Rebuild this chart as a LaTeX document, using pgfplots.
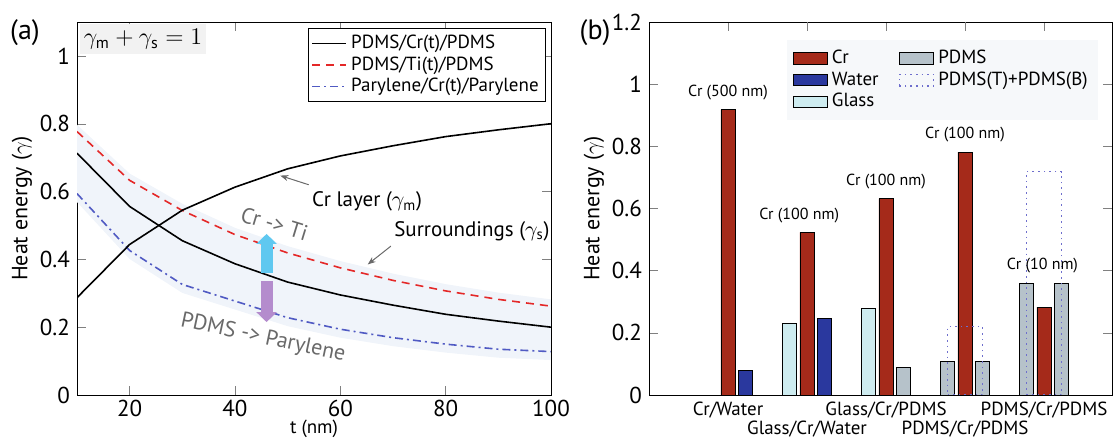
\documentclass[border=0pt]{standalone}
\usepackage{pgfplots}
\pgfplotsset{compat=1.18}
\usepgfplotslibrary{fillbetween}
\usetikzlibrary{arrows.meta}
\usepackage{fontspec}
\setmainfont{PT Sans}

\definecolor{crred}{RGB}{165,42,26}
\definecolor{wblue}{RGB}{42,56,158}
\definecolor{glass}{RGB}{206,236,240}
\definecolor{pdms}{RGB}{182,194,202}
\definecolor{dotbox}{RGB}{110,110,205}
\definecolor{band}{RGB}{240,244,250}
\definecolor{legbg}{RGB}{246,248,250}
\definecolor{tired}{RGB}{228,40,40}
\definecolor{parblue}{RGB}{80,90,195}
\definecolor{annot}{RGB}{105,105,105}
\definecolor{upcyan}{RGB}{95,200,240}
\definecolor{dnpurple}{RGB}{180,140,205}

\begin{document}
\begin{tikzpicture}

% ---------- (a) ----------
\begin{axis}[
    at={(38.5pt,22pt)}, anchor=south west,
    scale only axis, width=237pt, height=186.5pt,
    xmin=10, xmax=100, ymin=0, ymax=1.1,
    xtick={20,40,60,80,100},
    ytick={0,0.2,0.4,0.6,0.8,1},
    tick label style={font=\fontsize{11.5}{12}\selectfont},
    xticklabel style={inner sep=1pt, yshift=-1.5pt},
    /pgf/number format/assume math mode=true,
    xlabel={t (nm)}, ylabel={Heat energy ($\gamma$)},
    label style={font=\fontsize{11}{12}\selectfont},
    xlabel style={at={(rel axis cs:0.5,0)}, anchor=south, yshift=-22pt,
        inner sep=0.5pt, font=\fontsize{9.5}{10}\selectfont},
    ylabel style={yshift=-3pt},
    legend style={at={(rel axis cs:0.99,0.985)}, anchor=north east,
        font=\fontsize{9.5}{10.5}\selectfont, draw=black, line width=0.6pt,
        inner sep=1.5pt, row sep=-1.5pt},
    legend cell align=left,
]
\addplot[draw=none, name path=up, forget plot] coordinates {
    (10,0.797) (20,0.653) (30,0.564) (40,0.493) (50,0.439)
    (60,0.395) (70,0.358) (80,0.327) (90,0.302) (100,0.282)};
\addplot[draw=none, name path=lo, forget plot] coordinates {
    (10,0.569) (20,0.401) (30,0.301) (40,0.252) (50,0.203)
    (60,0.169) (70,0.144) (80,0.125) (90,0.110) (100,0.103)};
\addplot[fill=band, draw=none, forget plot] fill between[of=up and lo];

\addplot[black, line width=0.8pt] coordinates {
    (10,0.713) (20,0.556) (30,0.455) (40,0.387) (50,0.333)
    (60,0.295) (70,0.265) (80,0.238) (90,0.218) (100,0.200)};
\addlegendentry{PDMS/Cr(t)/PDMS}
\addplot[tired, line width=0.8pt, dash pattern=on 4pt off 3pt] coordinates {
    (10,0.777) (20,0.633) (30,0.544) (40,0.473) (50,0.419)
    (60,0.375) (70,0.338) (80,0.307) (90,0.282) (100,0.262)};
\addlegendentry{PDMS/Ti(t)/PDMS}
\addplot[parblue, line width=0.8pt, dash pattern=on 4pt off 2pt on 1pt off 2pt] coordinates {
    (10,0.594) (20,0.426) (30,0.326) (40,0.277) (50,0.228)
    (60,0.194) (70,0.169) (80,0.150) (90,0.135) (100,0.128)};
\addlegendentry{Parylene/Cr(t)/Parylene}
\addplot[black, line width=0.8pt, forget plot] coordinates {
    (10,0.287) (20,0.444) (30,0.545) (40,0.613) (50,0.667)
    (60,0.705) (70,0.735) (80,0.762) (90,0.782) (100,0.800)};

\node[fill=black!5, anchor=north west, minimum width=60pt, minimum height=15pt,
      inner sep=2pt, font=\fontsize{12}{13}\selectfont]
    at (rel axis cs:0.005,0.995) {$\gamma_{\mathrm{m}}+\gamma_{\mathrm{s}}=1$};

\draw[upcyan, line width=6pt, -{Triangle[width=10pt,length=5pt]}]
    (axis cs:46,0.36) -- (axis cs:46,0.475);
\draw[dnpurple, line width=6pt, -{Triangle[width=10pt,length=5pt]}]
    (axis cs:46,0.335) -- (axis cs:46,0.215);

\node[annot, rotate=-17, font=\fontsize{11}{12}\selectfont] at (axis cs:47.5,0.505) {Cr -> Ti};
\node[annot, rotate=-12, font=\fontsize{11}{12}\selectfont] at (axis cs:45.3,0.168) {PDMS -> Parylene};

\node[anchor=west, font=\fontsize{10.5}{11}\selectfont, inner sep=1pt] at (axis cs:54.2,0.57) {Cr layer ($\gamma_{\mathrm{m}}$)};
\draw[annot, line width=0.5pt, -{Stealth[length=4pt]}] (axis cs:54,0.62) -- (axis cs:48.6,0.647);
\node[anchor=west, font=\fontsize{10.5}{11}\selectfont, inner sep=1pt] at (axis cs:69.8,0.483) {Surroundings ($\gamma_{\mathrm{s}}$)};
\draw[annot, line width=0.5pt, -{Stealth[length=4pt]}] (axis cs:69.6,0.439) -- (axis cs:65.2,0.385);
\end{axis}

% ---------- (b) ----------
\begin{axis}[
    at={(324.5pt,22pt)}, anchor=south west,
    scale only axis, width=231.5pt, height=186.5pt,
    xmin=0, xmax=5.86, ymin=0, ymax=1.2,
    xtick={1,3,5},
    xticklabels={Cr/Water,Glass/Cr/PDMS,PDMS/Cr/PDMS},
    extra x ticks={2,4},
    extra x tick labels={Glass/Cr/Water,PDMS/Cr/PDMS},
    extra x tick style={xticklabel style={yshift=-9.5pt}},
    xticklabel style={font=\fontsize{9.5}{10}\selectfont},
    ytick={0,0.2,0.4,0.6,0.8,1,1.2},
    yticklabel style={font=\fontsize{11.5}{12}\selectfont},
    /pgf/number format/assume math mode=true,
    ylabel={Heat energy ($\gamma$)},
    label style={font=\fontsize{11}{12}\selectfont},
    ylabel style={yshift=-3pt},
    legend style={at={(rel axis cs:0.97,0.952)}, anchor=north east,
        fill=legbg, draw=none, font=\fontsize{9.5}{10.5}\selectfont,
        inner sep=3pt, row sep=-1.5pt,
        /tikz/every even column/.append style={column sep=8pt}},
    legend columns=2, legend cell align=left,
]
\addlegendimage{area legend, fill=crred, draw=none}
\addlegendimage{area legend, fill=pdms, draw=none}
\addlegendimage{area legend, fill=wblue, draw=none}
\addlegendimage{area legend, draw=dotbox, dotted, thick, fill=none}
\addlegendimage{area legend, fill=glass, draw=none}
\legend{Cr,PDMS,Water,PDMS(T)+PDMS(B),Glass}

\addplot[ybar, bar width=0.18, bar shift=-0.22, fill=glass, draw=black, forget plot]
    coordinates {(2,0.230) (3,0.278)};
\addplot[ybar, bar width=0.18, bar shift=0, fill=crred, draw=black, forget plot]
    coordinates {(1,0.918) (2,0.523) (3,0.632) (4,0.781) (5,0.283)};
\addplot[ybar, bar width=0.18, bar shift=0.22, fill=wblue, draw=black, forget plot]
    coordinates {(1,0.080) (2,0.245)};
\addplot[ybar, bar width=0.18, bar shift=-0.22, fill=pdms, draw=black, forget plot]
    coordinates {(4,0.109) (5,0.359)};
\addplot[ybar, bar width=0.18, bar shift=0.22, fill=pdms, draw=black, forget plot]
    coordinates {(3,0.089) (4,0.109) (5,0.359)};
\addplot[ybar, bar width=0.44, bar shift=0, draw=dotbox, dotted, thick, fill=none, forget plot]
    coordinates {(4,0.22) (5,0.719)};

\begin{scope}[font=\fontsize{8}{9}\selectfont]
\node[anchor=south] at (axis cs:1,0.925) {Cr (500 nm)};
\node[anchor=south] at (axis cs:1.9,0.53) {Cr (100 nm)};
\node[anchor=south] at (axis cs:3,0.64) {Cr (100 nm)};
\node[anchor=south] at (axis cs:4,0.79) {Cr (100 nm)};
\node at (axis cs:4.98,0.418) {Cr (10 nm)};
\end{scope}
\end{axis}

\node[font=\fontsize{14}{15}\selectfont] at (12.5pt,203pt) {(a)};
\node[font=\fontsize{14}{15}\selectfont] at (297.5pt,203pt) {(b)};
\pgfresetboundingbox
\useasboundingbox (0,0) rectangle (557pt,219.5pt);
\end{tikzpicture}
\end{document}
